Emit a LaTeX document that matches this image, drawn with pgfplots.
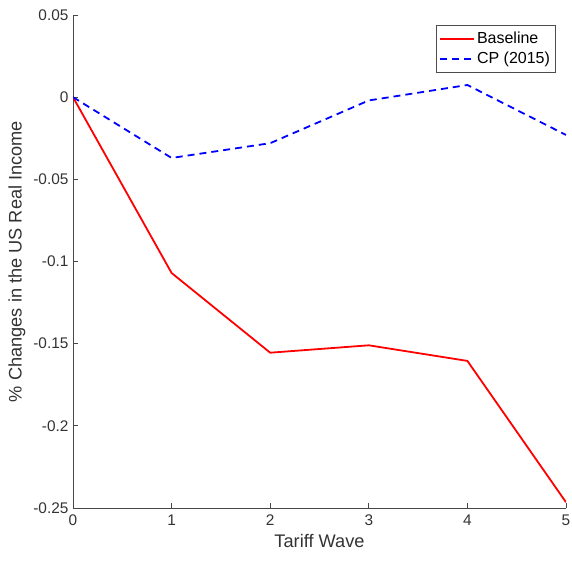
\documentclass[border=0pt]{standalone}
\usepackage{pgfplots}
\pgfplotsset{compat=1.18}
\usepackage{fontspec}
\setmainfont{Liberation Sans}
\begin{document}
\begin{tikzpicture}
\path[use as bounding box] (-73pt,-53pt) rectangle (499pt,508pt);
\begin{axis}[
  at={(0pt,0pt)}, anchor=south west,
  scale only axis, width=493pt, height=493pt,
  xmin=0, xmax=5, ymin=-0.25, ymax=0.05,
  axis x line*=bottom, axis y line*=left,
  axis line style={draw=black!72, line width=0.8pt, -},
  tick align=inside, major tick length=5pt,
  every tick/.style={draw=black!72, line width=0.8pt},
  xtick={0,1,2,3,4,5},
  ytick={-0.25,-0.2,-0.15,-0.1,-0.05,0,0.05},
  yticklabels={-0.25,-0.2,-0.15,-0.1,-0.05,0,0.05},
  /pgf/number format/assume math mode=true,
  tick label style={font=\fontsize{15.4}{17}\selectfont, text=black!80},
  xticklabel style={yshift=-3pt},
  yticklabel style={xshift=-1pt},
  label style={font=\fontsize{18.2}{21}\selectfont, text=black!80},
  xlabel={Tariff Wave},
  ylabel={\% Changes in the US Real Income},
  xlabel style={yshift=-2pt},
  ylabel style={yshift=1pt},
  legend style={at={(0.978,0.98)}, anchor=north east, draw=black!70,
    font=\fontsize{16}{18}\selectfont, inner xsep=3pt, inner ysep=5pt, row sep=3pt},
  legend cell align=left,
  legend image code/.code={\draw[#1] (0pt,0pt) -- (34pt,0pt);},
]
\addplot[red, line width=1.8pt] coordinates {(0,0) (1,-0.107) (2,-0.1555) (3,-0.151) (4,-0.1605) (5,-0.2465)};
\addlegendentry{Baseline}
\addplot[blue, line width=1.8pt, dash pattern=on 7pt off 5pt] coordinates {(0,0) (1,-0.037) (2,-0.028) (3,-0.002) (4,0.0074) (5,-0.023)};
\addlegendentry{CP (2015)}
\end{axis}
\end{tikzpicture}
\end{document}
